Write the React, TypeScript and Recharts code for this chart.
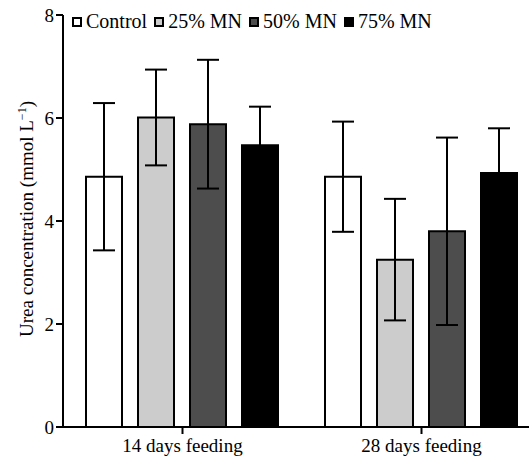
import React from 'react'
import { BarChart, Bar, XAxis, YAxis, ErrorBar } from 'recharts'

const CATEGORIES = ['14 days feeding', '28 days feeding']
const CONTROL = [4.86, 4.86]
const CONTROL_SD = [1.43, 1.07]
const MN25 = [6.01, 3.25]
const MN25_SD = [0.93, 1.18]
const MN50 = [5.88, 3.8]
const MN50_SD = [1.25, 1.82]
const MN75 = [5.47, 4.93]
const MN75_SD = [0.75, 0.87]
const Y_TICKS = [0, 2, 4, 6, 8]

const SERIES = [
  { key: 'control', name: 'Control', fill: '#ffffff' },
  { key: 'mn25', name: '25% MN', fill: '#cccccc' },
  { key: 'mn50', name: '50% MN', fill: '#4d4d4d' },
  { key: 'mn75', name: '75% MN', fill: '#000000' },
]

const data = CATEGORIES.map((c, i) => ({
  cat: c,
  control: CONTROL[i], control_sd: CONTROL_SD[i],
  mn25: MN25[i], mn25_sd: MN25_SD[i],
  mn50: MN50[i], mn50_sd: MN50_SD[i],
  mn75: MN75[i], mn75_sd: MN75_SD[i],
}))

const FONT = '"Liberation Serif", "Times New Roman", serif'

function YLabel(props: any) {
  const vb = props.viewBox || {}
  const cy = vb.y + vb.height / 2 - 2
  const x = 25
  return (
    <text x={x} y={cy} transform={`rotate(-90 ${x} ${cy})`} textAnchor="middle"
      fontFamily={FONT} fontSize={19} fill="#000">
      Urea concentration (mmol L<tspan fontSize={12} dy={-7}>−1</tspan><tspan dy={7}>)</tspan>
    </text>
  )
}

export default function App() {
  return (
    <div style={{ position: 'fixed', left: 0, top: 0, width: 529, height: 458, overflow: 'hidden', fontFamily: FONT, background: '#fff' }}>
      <div style={{ position: 'absolute', left: 8, top: 0 }}>
        <BarChart width={560} height={458} data={data} barCategoryGap={23} barGap={16}
          margin={{ top: 15, right: 27, left: 0, bottom: 1 }}>
          <XAxis dataKey="cat" height={30} tickSize={7} tickMargin={5}
            stroke="#000" strokeWidth={2}
            tick={{ fill: '#000', fontSize: 19, fontFamily: FONT }} />
          <YAxis width={55} domain={[0, 8]} ticks={Y_TICKS} tickSize={7} tickMargin={2}
            stroke="#000" strokeWidth={2} interval={0}
            tick={{ fill: '#000', fontSize: 19, fontFamily: FONT }}
            label={<YLabel />} />
          {SERIES.map(s => (
            <Bar key={s.key} dataKey={s.key} name={s.name} fill={s.fill}
              stroke="#000" strokeWidth={2} isAnimationActive={false}>
              <ErrorBar dataKey={`${s.key}_sd`} width={11} stroke="#000" strokeWidth={2} />
            </Bar>
          ))}
        </BarChart>
        <div style={{ position: 'absolute', left: 64, top: 10, display: 'flex', alignItems: 'center', fontSize: 20, lineHeight: '23px', color: '#000', whiteSpace: 'nowrap' }}>
          {SERIES.map(s => (
            <div key={s.key} style={{ display: 'flex', alignItems: 'center', marginRight: 7 }}>
              <span style={{ display: 'inline-block', width: 6, height: 6, border: '2px solid #000', background: s.fill, marginRight: 4 }} />
              <span>{s.name}</span>
            </div>
          ))}
        </div>
      </div>
    </div>
  )
}
